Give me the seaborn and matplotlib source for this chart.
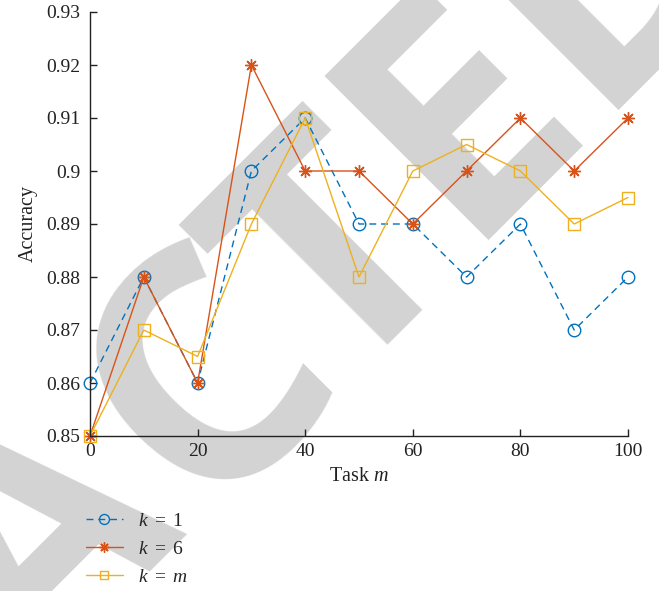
import matplotlib
matplotlib.use("Agg")
import matplotlib.pyplot as plt
import seaborn as sns
import pandas as pd

tasks = [0, 10, 20, 30, 40, 50, 60, 70, 80, 90, 100]
acc_k1 = [0.86, 0.88, 0.86, 0.90, 0.91, 0.89, 0.89, 0.88, 0.89, 0.87, 0.88]
acc_k6 = [0.85, 0.88, 0.86, 0.92, 0.90, 0.90, 0.89, 0.90, 0.91, 0.90, 0.91]
acc_km = [0.85, 0.87, 0.865, 0.89, 0.91, 0.88, 0.90, 0.905, 0.90, 0.89, 0.895]
series_labels = ["$k\\ =\\ 1$", "$k\\ =\\ 6$", "$k\\ =\\ m$"]
xticks = [0, 20, 40, 60, 80, 100]
yticks = [0.85, 0.86, 0.87, 0.88, 0.89, 0.90, 0.91, 0.92, 0.93]
ytick_labels = ["0.85", "0.86", "0.87", "0.88", "0.89", "0.9", "0.91", "0.92", "0.93"]

# watermark letters of "RETRACTED" (visible part) and their baseline centres in pixels
wm_letters = ["A", "C", "T", "E", "D"]
wm_pos = [(108, 612), (274, 445), (403, 322), (524, 176), (675, 25)]

sns.set_theme(style="white")
plt.rcParams["font.family"] = ["Liberation Serif", "DejaVu Serif"]
plt.rcParams["mathtext.fontset"] = "custom"
plt.rcParams["mathtext.rm"] = "Liberation Serif"
plt.rcParams["mathtext.it"] = "Liberation Serif:italic"

W, H = 659, 591
fig = plt.figure(figsize=(W / 100, H / 100), dpi=100)
ax = fig.add_axes([90 / W, 1 - 436 / H, (628 - 90) / W, (436 - 12) / H])
ax.set_facecolor("none")

for ch, (px, py) in zip(wm_letters, wm_pos):
    fig.text(px / W, 1 - py / H, ch, fontsize=234, color="#d3d3d3",
             family="Open Sans", weight="bold", rotation=45,
             ha="center", va="baseline", rotation_mode="anchor", zorder=-10)

colors = ["#0072BD", "#D95319", "#EDB120"]
data = [acc_k1, acc_k6, acc_km]
markers = ["o", (8, 2, 0), "s"]
msizes = [9, 9, 8]
styles = [(0, (5, 3.5)), "-", "-"]
for vals, lab, c, m, ms, ls in zip(data, series_labels, colors, markers, msizes, styles):
    df = pd.DataFrame({"Task": tasks, "Accuracy": vals})
    sns.lineplot(data=df, x="Task", y="Accuracy", ax=ax, color=c, label=lab,
                 marker=m, markersize=ms, markerfacecolor="none",
                 markeredgecolor=c, markeredgewidth=1.0, linewidth=1.0,
                 linestyle=ls, clip_on=False)

ax.set_xlim(0, 100)
ax.set_ylim(0.85, 0.93)
ax.set_xticks(xticks)
ax.set_yticks(yticks)
ax.set_yticklabels(ytick_labels)
for s in ["top", "right"]:
    ax.spines[s].set_visible(False)
for s in ["left", "bottom"]:
    ax.spines[s].set_color("#222222")
    ax.spines[s].set_linewidth(1.0)
ax.tick_params(direction="in", length=5, width=1.0, colors="#222222",
               labelsize=14, labelcolor="#222222", left=True, bottom=True)
ax.tick_params(axis="y", pad=7)
ax.tick_params(axis="x", pad=5)
ax.set_xlabel("Task $m$", fontsize=14.5, color="#222222", labelpad=5)
ax.set_ylabel("Accuracy", fontsize=14.5, color="#222222", labelpad=6)

leg = ax.legend(loc="upper left", bbox_to_anchor=(86 / W, 1 - 512 / H),
                bbox_transform=fig.transFigure, frameon=False, borderpad=0,
                borderaxespad=0, fontsize=14, handlelength=1.9,
                labelspacing=0.55, handletextpad=0.8, markerscale=0.8)

fig.savefig("out.png", dpi=100)
